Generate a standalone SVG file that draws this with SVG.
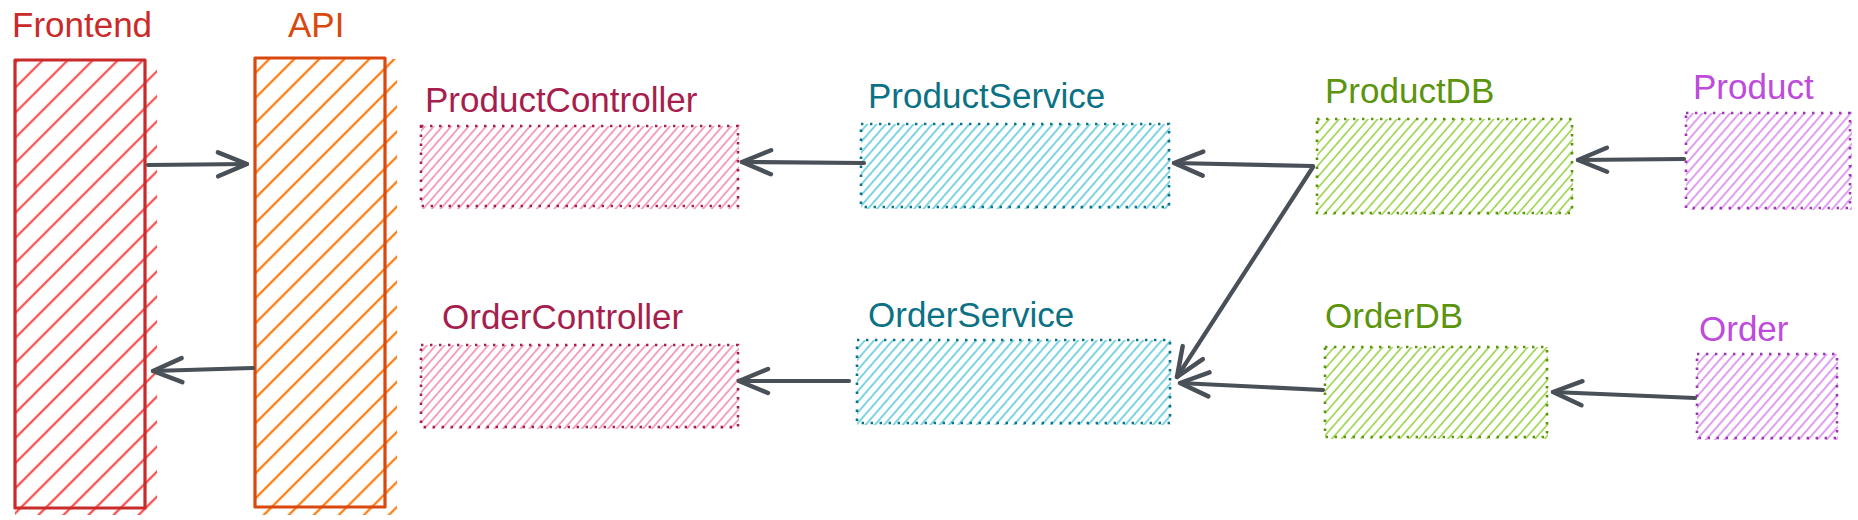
<svg xmlns="http://www.w3.org/2000/svg" width="1858" height="520" viewBox="0 0 1858 520">
<style>
.lbl{font-family:"Liberation Sans",Arial,Helvetica,sans-serif;font-size:35px}
.solid{fill:none;stroke-width:3.2;stroke-linejoin:round}
.dot{fill:none;stroke-width:2.6;stroke-dasharray:2.4 6.6;stroke-linecap:butt}
.conn{fill:none;stroke:#495057;stroke-width:4.2;stroke-linecap:round;marker-end:url(#ah)}
</style>
<defs>
<marker id="ah" markerUnits="userSpaceOnUse" markerWidth="60" markerHeight="60" viewBox="-40 -30 60 60" refX="0" refY="0" orient="auto" overflow="visible">
<path d="M-29 -12 L0 0 L-29 12" fill="none" stroke="#495057" stroke-width="4.5" stroke-linecap="round" stroke-linejoin="round"/>
</marker>
<pattern id="hRed" width="17.7" height="40" patternUnits="userSpaceOnUse" patternTransform="rotate(45)"><line x1="2" y1="0" x2="2" y2="40" stroke="#fa5252" stroke-width="2.3"/></pattern>
<pattern id="hOrg" width="17.7" height="40" patternUnits="userSpaceOnUse" patternTransform="rotate(45)"><line x1="2" y1="0" x2="2" y2="40" stroke="#fd7e14" stroke-width="2.3"/></pattern>
<pattern id="hPink" width="6.6" height="40" patternUnits="userSpaceOnUse" patternTransform="rotate(41)"><line x1="1" y1="0" x2="1" y2="40" stroke="#f06595" stroke-width="1.2"/></pattern>
<pattern id="hCyan" width="7" height="40" patternUnits="userSpaceOnUse" patternTransform="rotate(41)"><line x1="1" y1="0" x2="1" y2="40" stroke="#22b8cf" stroke-width="1.2"/></pattern>
<pattern id="hGreen" width="7.3" height="40" patternUnits="userSpaceOnUse" patternTransform="rotate(41)"><line x1="1" y1="0" x2="1" y2="40" stroke="#82c91e" stroke-width="1.3"/></pattern>
<pattern id="hPurp" width="7" height="40" patternUnits="userSpaceOnUse" patternTransform="rotate(41)"><line x1="1" y1="0" x2="1" y2="40" stroke="#cc5de8" stroke-width="1.2"/></pattern>
</defs>

<g id="frontend">
<rect x="15" y="61" width="142" height="454" fill="url(#hRed)"/>
<rect x="15" y="60" width="130" height="448" class="solid" stroke="#c92a2a"/>
<text x="12" y="37" class="lbl" fill="#c92a2a">Frontend</text>
</g>

<g id="api">
<rect x="255" y="59" width="142" height="456" fill="url(#hOrg)"/>
<rect x="255" y="58" width="130" height="449" class="solid" stroke="#d9480f"/>
<text x="288" y="37" class="lbl" fill="#d9480f">API</text>
</g>

<g id="productcontroller">
<rect x="421" y="126" width="318" height="83" fill="url(#hPink)"/>
<rect x="421" y="126" width="317" height="80" class="dot" stroke="#a61e4d"/>
<text x="425" y="112" class="lbl" fill="#a61e4d">ProductController</text>
</g>

<g id="ordercontroller">
<rect x="421" y="345" width="318" height="84" fill="url(#hPink)"/>
<rect x="421" y="345" width="317" height="82" class="dot" stroke="#a61e4d"/>
<text x="442" y="329" class="lbl" fill="#a61e4d">OrderController</text>
</g>

<g id="productservice">
<rect x="861" y="124" width="309" height="85" fill="url(#hCyan)"/>
<rect x="861" y="124" width="308" height="83" class="dot" stroke="#0b7285"/>
<text x="868" y="108" class="lbl" fill="#0b7285">ProductService</text>
</g>

<g id="orderservice">
<rect x="857" y="340" width="314" height="85" fill="url(#hCyan)"/>
<rect x="857" y="340" width="313" height="83" class="dot" stroke="#0b7285"/>
<text x="868" y="327" class="lbl" fill="#0b7285">OrderService</text>
</g>

<g id="productdb">
<rect x="1317" y="119" width="256" height="96" fill="url(#hGreen)"/>
<rect x="1317" y="119" width="255" height="94" class="dot" stroke="#5c940d"/>
<text x="1325" y="103" class="lbl" fill="#5c940d">ProductDB</text>
</g>

<g id="orderdb">
<rect x="1325" y="347" width="223" height="92" fill="url(#hGreen)"/>
<rect x="1325" y="347" width="222" height="90" class="dot" stroke="#5c940d"/>
<text x="1325" y="328" class="lbl" fill="#5c940d">OrderDB</text>
</g>

<g id="product">
<rect x="1686" y="113" width="166" height="97" fill="url(#hPurp)"/>
<rect x="1686" y="113" width="164" height="95" class="dot" stroke="#9c36b5"/>
<text x="1693" y="99" class="lbl" fill="#be4bdb">Product</text>
</g>

<g id="order">
<rect x="1697" y="354" width="141" height="86" fill="url(#hPurp)"/>
<rect x="1697" y="354" width="140" height="84" class="dot" stroke="#9c36b5"/>
<text x="1699" y="341" class="lbl" fill="#be4bdb">Order</text>
</g>

<g id="connectors">
<path class="conn" d="M148 165 L247 164"/>
<path class="conn" d="M253 368 L153 371"/>
<path class="conn" d="M864 163 L742 162"/>
<path class="conn" d="M849 381 L739 381"/>
<path class="conn" d="M1313 166 L1174 163"/>
<path class="conn" d="M1313 167 L1177 377"/>
<path class="conn" d="M1323 390 L1180 383"/>
<path class="conn" d="M1684 159 L1578 160"/>
<path class="conn" d="M1695 398 L1553 392"/>
</g>
</svg>
